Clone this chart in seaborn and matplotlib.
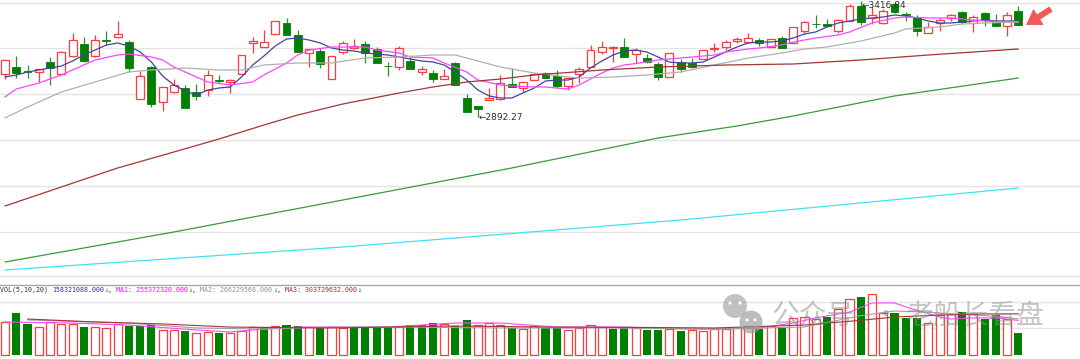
import numpy as np
import seaborn as sns
import matplotlib.pyplot as plt
from matplotlib.patches import Circle, FancyArrow

# ---------------- data ----------------
opens = [3088, 3119.5, 3101.5, 3097, 3142, 3088, 3169, 3223, 3169, 3241,
         3254.5, 3232, 2975.5, 3119.5, 2962, 3007, 3025, 3007, 3016, 3061,
         3052, 3088, 3227.5, 3209.5, 3268, 3317.5, 3263.5, 3182.5, 3191.5, 3065.5,
         3187, 3205, 3223, 3200.5, 3126, 3119.5, 3146.5, 3097, 3092.5, 3065.5,
         3137.5, 2980, 2944, 2971, 2975.5, 3043, 3025, 3061, 3092.5, 3079,
         3034, 3088, 3119.5, 3187, 3205, 3209.5, 3178, 3160, 3133, 3074.5,
         3142, 3137.5, 3155.5, 3200.5, 3209.5, 3236.5, 3232, 3241, 3209.5, 3250,
         3227.5, 3281.5, 3313, 3313, 3281.5, 3326.5, 3394, 3340, 3317.5, 3403,
         3358, 3344.5, 3272.5, 3317.5, 3340, 3367, 3317.5, 3362.5, 3326.5, 3304,
         3371.5]
highs = [3151, 3169, 3128.5, 3110.5, 3164.5, 3191.5, 3272.5, 3254.5, 3263.5, 3281.5,
         3326.5, 3241, 3101.5, 3124, 3029.5, 3065.5, 3038.5, 3043, 3106, 3083.5,
         3065.5, 3173.5, 3254.5, 3286, 3326.5, 3340, 3286, 3200.5, 3205, 3169,
         3236.5, 3245.5, 3236.5, 3209.5, 3142, 3214, 3164.5, 3124, 3106, 3110.5,
         3142, 2998, 2944, 3025, 3083.5, 3115, 3052, 3092.5, 3097, 3106,
         3074.5, 3119.5, 3218.5, 3236.5, 3214, 3250, 3205, 3178, 3142, 3182.5,
         3155.5, 3160, 3196, 3227.5, 3241, 3254.5, 3272.5, 3250, 3245.5, 3259,
         3299.5, 3326.5, 3353.5, 3335.5, 3335.5, 3403, 3416.84, 3394, 3380.5, 3412,
         3367, 3353.5, 3322, 3340, 3358, 3371.5, 3353.5, 3367, 3358, 3367,
         3394]
lows = [3065.5, 3070, 3070, 3052, 3038.5, 3083.5, 3164.5, 3142, 3164.5, 3218.5,
        3250, 3097, 2975.5, 2939.5, 2921.5, 3002.5, 2935, 2971, 2989, 3047.5,
        3002.5, 3088, 3182.5, 3209.5, 3263.5, 3263.5, 3187, 3119.5, 3115, 3065.5,
        3178, 3200.5, 3137.5, 3137.5, 3079, 3106, 3110.5, 3083.5, 3052, 3065.5,
        3038.5, 2917, 2892.27, 2971, 2971, 3029.5, 3007, 3061, 3070, 3025,
        3016, 3047.5, 3119.5, 3178, 3142, 3164.5, 3137.5, 3137.5, 3061, 3074.5,
        3097, 3115, 3155.5, 3187, 3196, 3227.5, 3227.5, 3214, 3209.5, 3205,
        3227.5, 3272.5, 3295, 3299.5, 3272.5, 3326.5, 3308.5, 3313, 3313, 3362.5,
        3326.5, 3259, 3272.5, 3281.5, 3326.5, 3313, 3277, 3304, 3304, 3259,
        3308.5]
closes = [3151, 3092.5, 3097, 3110.5, 3115, 3187, 3241, 3146.5, 3241, 3236.5,
          3268, 3115, 3079, 2953, 3029.5, 3038.5, 2935, 2989, 3083.5, 3056.5,
          3061, 3173.5, 3236.5, 3232, 3326.5, 3263.5, 3187, 3200.5, 3133, 3169,
          3227.5, 3214, 3182.5, 3137.5, 3122, 3205, 3110.5, 3110.5, 3065.5, 3079,
          3038.5, 2917, 2930.5, 2980, 3047.5, 3029.5, 3052, 3088, 3070, 3034,
          3070, 3110.5, 3196, 3209.5, 3209.5, 3164.5, 3196, 3142, 3074.5, 3182.5,
          3110.5, 3119.5, 3196, 3205, 3232, 3245.5, 3250, 3227.5, 3245.5, 3205,
          3299.5, 3322, 3311, 3304, 3331, 3394, 3322, 3353.5, 3371.5, 3367,
          3353.5, 3281.5, 3299.5, 3331, 3353.5, 3322, 3344.5, 3331, 3304, 3353.5,
          3308.5]

# volume in millions, and bar colour (r = up, g = down)
volumes = [245, 312, 230, 203, 245, 226, 226, 208, 203, 196,
           226, 215, 215, 218, 183, 183, 178, 163, 170, 163,
           163, 178, 208, 203, 213, 220, 213, 203, 200, 203,
           198, 196, 203, 203, 203, 208, 220, 220, 233, 226,
           213, 258, 220, 233, 220, 200, 188, 213, 200, 196,
           183, 196, 218, 203, 193, 200, 200, 185, 185, 188,
           178, 183, 178, 188, 188, 196, 213, 188, 213, 203,
           270, 282, 263, 282, 338, 412, 432, 452, 312, 308,
           270, 270, 233, 295, 303, 317, 303, 263, 295, 263,
           158.32]
vol_dir = ("rggrrrrgrr" "rgggrrgrrg" "rrrgrggrgr" "rggggrgggr" "ggrrrgrrgg"
           "rrrrggrggr" "grrrrrrgrg" "rrrgrrgrrg" "ggrrrgrggrg")

# price moving averages (candle index, value)
ma5 = [3074.5, 3083.5, 3097, 3106, 3115, 3124, 3146.5, 3173.5, 3196, 3218.5,
       3227.5, 3214, 3187, 3142, 3079, 3038.5, 3011.5, 2993.5, 3016, 3025,
       3029.5, 3074.5, 3128.5, 3169, 3214, 3245.5, 3250, 3241, 3227.5, 3205,
       3196, 3191.5, 3182.5, 3178, 3173.5, 3164.5, 3155.5, 3146.5, 3142, 3128.5,
       3097, 3061, 3016, 2989, 2980, 2980, 3002.5, 3025, 3056.5, 3061,
       3061, 3074.5, 3115, 3146.5, 3173.5, 3191.5, 3196, 3187, 3164.5, 3142,
       3137.5, 3137.5, 3142, 3164.5, 3187, 3209.5, 3227.5, 3232, 3232, 3236.5,
       3250, 3268, 3277, 3299.5, 3317.5, 3326.5, 3335.5, 3340, 3344.5, 3353.5,
       3349, 3340, 3326.5, 3317.5, 3317.5, 3322, 3326.5, 3331, 3326.5, 3326.5,
       3326.5]
ma10_idx = [0, 1, 3, 5, 7, 8, 10, 11, 13, 14, 15, 17, 18, 20, 22, 23, 25, 26, 27, 29,
            31, 32, 33, 35, 36, 38, 39, 41, 42, 44, 45, 47, 48, 50, 51, 53, 54, 55, 57, 58,
            60, 61, 63, 64, 66, 67, 69, 70, 72, 74, 75, 77, 79, 80, 82, 84, 85, 87, 89, 90]
ma10_val = [2984.5, 3020.5, 3047.5, 3083.5, 3128.5, 3151, 3173.5, 3178, 3164.5, 3151,
            3119.5, 3074.5, 3052, 3038.5, 3052, 3083.5, 3137.5, 3173.5, 3196, 3209.5,
            3209.5, 3209.5, 3196, 3182.5, 3164.5, 3160, 3137.5, 3097, 3061, 3038.5,
            3034, 3029.5, 3029.5, 3020.5, 3038.5, 3092.5, 3115, 3128.5, 3142, 3151,
            3160, 3164.5, 3173.5, 3187, 3200.5, 3205, 3218.5, 3232, 3250, 3263.5,
            3277, 3317.5, 3340, 3344.5, 3340, 3340, 3335.5, 3326.5, 3322, 3322]
ma20_idx = [0, 2, 5, 8, 11, 13, 16, 19, 21, 23, 26, 29, 32, 35, 38, 40, 42, 44, 47, 50,
            51, 54, 57, 60, 63, 66, 69, 71, 73, 76, 79, 80, 83, 85, 87, 90]
ma20_val = [2890, 2939.5, 3007, 3052, 3097, 3106, 3115, 3106, 3106, 3128.5,
            3137.5, 3137.5, 3160, 3164.5, 3173.5, 3173.5, 3146.5, 3119.5, 3092.5, 3074.5,
            3070, 3074.5, 3083.5, 3097, 3128.5, 3160, 3182.5, 3200.5, 3209.5, 3236.5,
            3272.5, 3290.5, 3299.5, 3313, 3317.5, 3322]
ma60_idx = [0, 5, 10, 15, 19, 23, 26, 30, 35, 38, 41, 44, 47, 53, 58, 64, 70, 76, 82, 86, 90]
ma60_val = [2494, 2579.5, 2665, 2737, 2795.5, 2858.5, 2903.5, 2953, 3002.5, 3029.5, 3052,
            3065.5, 3083.5, 3106, 3119.5, 3128.5, 3133, 3151, 3173.5, 3187, 3200.5]
ma120_idx = [0, 15, 30, 45, 58, 65, 70, 79, 90]
ma120_val = [2242, 2377, 2521, 2665, 2800, 2854, 2899, 2989, 3070]
ma250_idx = [0, 30, 60, 90]
ma250_val = [2206, 2309.5, 2431, 2575]

# volume moving averages
vma5_idx = [0, 6, 11, 17, 20, 23, 26, 29, 34, 40, 44, 49, 55, 61, 63, 67, 70, 72, 75, 77,
            79, 80, 83, 84, 86, 88, 90]
vma5_val = [243, 235, 220, 183, 168, 190, 205, 205, 205, 235, 235, 205, 205, 190, 190, 198,
            235, 273, 317, 385, 385, 355, 280, 265, 273, 273, 255]
vma10_idx = [2, 11, 17, 23, 29, 35, 44, 53, 63, 71, 76, 79, 82, 85, 88, 90]
vma10_val = [258, 235, 198, 190, 205, 205, 198, 198, 190, 205, 290, 325, 315, 300, 285, 266]
vma20_idx = [2, 8, 14, 20, 29, 40, 48, 57, 63, 71, 76, 79, 83, 86, 90]
vma20_val = [265, 243, 228, 205, 198, 213, 205, 202, 198, 220, 255, 280, 295, 302, 304]

low_label = "2892.27"
high_label = "3416.84"
vol_label = [("VOL(5,10,20) ", "#303030"), ("158321088.000", "#3030a0"), ("↓", "#008000"),
             (", ", "#303030"), ("MA1: 255372320.000", "#ff00ff"), ("↓", "#008000"),
             (", ", "#303030"), ("MA2: 266229568.000", "#909090"), ("↓", "#008000"),
             (", ", "#303030"), ("MA3: 303729632.000", "#a03030"), ("↓", "#008000")]
price_grid = [3407.5, 3205, 2998, 2791, 2584, 2377, 2179]
vol_grid = [392, 198]

# ---------------- style ----------------
sns.set_theme(style="white")
plt.rcParams["font.family"] = ["DejaVu Sans", "Noto Sans CJK SC"]

RED = "#ff3b3b"
GREEN = "#008000"

W, H = 1080, 359
fig = plt.figure(figsize=(W / 100, H / 100), dpi=100)
fig.patch.set_facecolor("white")
ax = fig.add_axes([0, (H - 282) / H, 1, 282 / H])
axv = fig.add_axes([0, 0, 1, 74 / H])

xlim = (-5 / 11.26, (W - 5) / 11.26)
for a in (ax, axv):
    a.set_xlim(*xlim)
    a.set_xticks([])
    a.set_yticks([])
    a.set_facecolor("none")
    for s in a.spines.values():
        s.set_visible(False)
ax.set_ylim(2152, 3421)
axv.set_ylim(-33.6, 519)
axv.spines["top"].set_visible(True)
axv.spines["top"].set_color("#a8a8a8")
axv.spines["top"].set_linewidth(1)

for g in price_grid:
    ax.axhline(g, color="#e4e4e4", lw=1, zorder=0)
for g in vol_grid:
    axv.axhline(g, color="#e4e4e4", lw=1, zorder=0)

# ---------------- candles ----------------
o, h, l, c = map(np.array, (opens, highs, lows, closes))
idx = np.arange(len(o))
up = c >= o
ax.vlines(idx[up], l[up], h[up], color=RED, lw=0.9, zorder=2)
ax.vlines(idx[~up], l[~up], h[~up], color="#2f8f2f", lw=0.9, zorder=2)
body_lo = np.minimum(o, c)
body_h = np.maximum(np.abs(c - o), 1.5)
ax.bar(idx[up], body_h[up], bottom=body_lo[up], width=0.7,
       facecolor="white", edgecolor=RED, lw=0.9, zorder=3)
ax.bar(idx[~up], body_h[~up], bottom=body_lo[~up], width=0.7,
       color=GREEN, edgecolor=GREEN, lw=0.6, zorder=3)

lines = [
    (list(range(len(ma5))), ma5, "#44449e"),
    (ma10_idx, ma10_val, "#ff44ff"),
    (ma20_idx, ma20_val, "#b0b0b0"),
    (ma60_idx, ma60_val, "#a23636"),
    (ma120_idx, ma120_val, "#3a9a3a"),
    (ma250_idx, ma250_val, "#3ce4f0"),
]
for xs, ys, col in lines:
    sns.lineplot(x=xs, y=ys, ax=ax, color=col, lw=0.9, errorbar=None,
                 legend=False, zorder=4)

lo_i = int(np.argmin(l))
hi_i = int(np.argmax(h))
ax.annotate("←" + low_label, xy=(lo_i, l[lo_i]), xytext=(0.5, 0),
            textcoords="offset points", fontsize=6.5, color="#333333",
            va="center", ha="left", zorder=5)
ax.annotate("←" + high_label, xy=(hi_i, h[hi_i]), xytext=(0.5, -3.5),
            textcoords="offset points", fontsize=6.5, color="#333333",
            va="center", ha="left", zorder=5)

# ---------------- volume ----------------
v = np.array(volumes)
vc = np.array([d == "r" for d in vol_dir])
axv.bar(idx[vc], v[vc], width=0.72, facecolor="white", edgecolor=RED, lw=0.9, zorder=2)
axv.bar(idx[~vc], v[~vc], width=0.72, color=GREEN, lw=0, zorder=2)
for xs, ys, col in [(vma5_idx, vma5_val, "#ff44ff"),
                    (vma10_idx, vma10_val, "#a0a0a0"),
                    (vma20_idx, vma20_val, "#a23636")]:
    sns.lineplot(x=xs, y=ys, ax=axv, color=col, lw=0.8, errorbar=None,
                 legend=False, zorder=3)

# ---------------- overlay: labels, watermark, arrow ----------------
ov = fig.add_axes([0, 0, 1, 1], zorder=10)
ov.set_xlim(0, W)
ov.set_ylim(H, 0)
ov.axis("off")

x = 0
cw = 4.01
for s, col in vol_label:
    ov.text(x, 290, s, family=["DejaVu Sans Mono", "DejaVu Sans"], fontsize=4.8,
            color=col, va="center", ha="left")
    x += len(s) * cw

# watermark
ov.add_patch(Circle((735, 306), 12, color="#9a9a9a", alpha=0.6, lw=0))
ov.add_patch(Circle((751, 322), 11.5, color="#9a9a9a", alpha=0.65, lw=0))
for ex, ey, r in [(730, 303, 1.6), (740, 303, 1.6), (747, 320, 1.5), (755, 320, 1.5)]:
    ov.add_patch(Circle((ex, ey), r, color="white", lw=0))
wm = dict(family=["Noto Sans CJK SC"], fontsize=20, color="#8a8a8a", alpha=0.5,
          va="center", ha="left")
ov.text(772, 316, "公众号", **wm)
ov.text(872, 316, "·", **wm)
ov.text(905, 316, "老船长看盘", **wm)

# red pointer arrow
ov.add_patch(FancyArrow(1051, 9, -25, 16, width=6, head_width=19, head_length=15,
                        length_includes_head=True, fc="#f25858", ec="none"))

fig.savefig("out.png", dpi=100)
